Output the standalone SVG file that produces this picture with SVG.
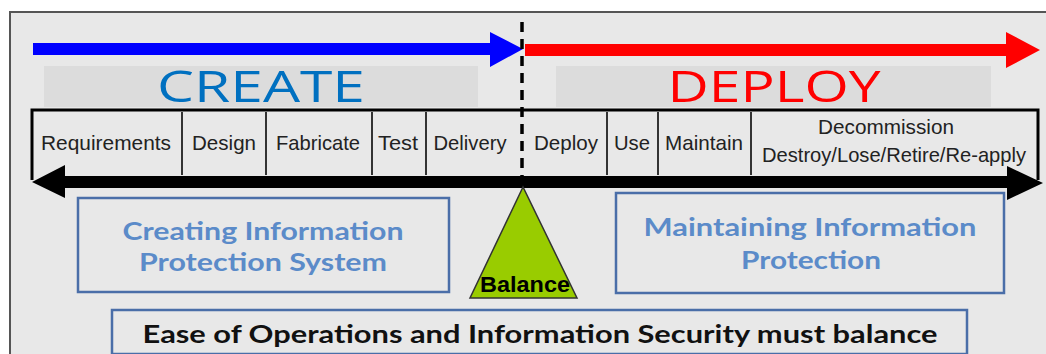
<svg xmlns="http://www.w3.org/2000/svg" width="1046" height="354" viewBox="0 0 1046 354">
  <style>
    .stage { font-family: "Liberation Sans", Arial, sans-serif; font-size: 21px; fill: #222; text-anchor: middle; }
    .div { stroke: #333; stroke-width: 2; }
    .box { fill: none; stroke: #4a6ea8; stroke-width: 2.5; }
    .blue { font-family: "Lato", "Open Sans", sans-serif; font-weight: bold; font-size: 24px; fill: #5b8bc9; text-anchor: middle; }
    .big { font-family: "Open Sans", "Liberation Sans", sans-serif; font-size: 44px; text-anchor: middle; }
  </style>
  <rect x="0" y="0" width="1046" height="354" fill="#ffffff"/>
  <rect x="10" y="12" width="1045" height="350" fill="#e8e8e8" stroke="#555" stroke-width="2"/>

  <g id="create-label">
    <rect x="44" y="66" width="434" height="41" fill="#dcdcdc"/>
    <text class="big" x="261" y="102" fill="#0070c0" textLength="208" lengthAdjust="spacingAndGlyphs">CREATE</text>
  </g>
  <g id="deploy-label">
    <rect x="556" y="66" width="435" height="41" fill="#dcdcdc"/>
    <text class="big" x="774" y="102" fill="#ff0000" textLength="213" lengthAdjust="spacingAndGlyphs">DEPLOY</text>
  </g>

  <g id="stages">
    <path d="M32,180 V110 H1038 V180" fill="none" stroke="#000" stroke-width="3"/>
    <line class="div" x1="182" y1="112" x2="182" y2="175"/>
    <line class="div" x1="266" y1="112" x2="266" y2="175"/>
    <line class="div" x1="372" y1="112" x2="372" y2="175"/>
    <line class="div" x1="426" y1="112" x2="426" y2="175"/>
    <line class="div" x1="607" y1="112" x2="607" y2="175"/>
    <line class="div" x1="658" y1="112" x2="658" y2="175"/>
    <line class="div" x1="751" y1="112" x2="751" y2="175"/>
    <text class="stage" x="106" y="150" textLength="130" lengthAdjust="spacingAndGlyphs">Requirements</text>
    <text class="stage" x="224" y="150" textLength="64" lengthAdjust="spacingAndGlyphs">Design</text>
    <text class="stage" x="318" y="150" textLength="84" lengthAdjust="spacingAndGlyphs">Fabricate</text>
    <text class="stage" x="398" y="150" textLength="40" lengthAdjust="spacingAndGlyphs">Test</text>
    <text class="stage" x="470" y="150" textLength="73" lengthAdjust="spacingAndGlyphs">Delivery</text>
    <text class="stage" x="566" y="150" textLength="64" lengthAdjust="spacingAndGlyphs">Deploy</text>
    <text class="stage" x="632" y="150" textLength="36" lengthAdjust="spacingAndGlyphs">Use</text>
    <text class="stage" x="704" y="150" textLength="78" lengthAdjust="spacingAndGlyphs">Maintain</text>
    <text class="stage" x="886" y="134" textLength="136" lengthAdjust="spacingAndGlyphs">Decommission</text>
    <text class="stage" x="894" y="162" textLength="264" lengthAdjust="spacingAndGlyphs">Destroy/Lose/Retire/Re-apply</text>
  </g>

  <g id="connectors">
    <polygon points="33,43 490,43 490,32 523,49 490,67 490,55 33,55" fill="#0000ff"/>
    <polygon points="525,44 1006,44 1006,32 1040,50 1006,68 1006,56 525,56" fill="#ff0000"/>
    <line x1="522" y1="22" x2="522" y2="190" stroke="#000" stroke-width="3.5" stroke-dasharray="10 7"/>
    <polygon points="32,182 65,165 65,176 1007,176 1007,166 1043,183 1007,200 1007,188 65,188 65,198" fill="#000"/>
  </g>

  <g id="balance">
    <polygon points="523,187 470,298 577,298" fill="#99cc00" stroke="#333" stroke-width="1.5"/>
    <text x="525" y="292" font-family="'Liberation Sans', Arial, sans-serif" font-weight="bold" font-size="22" fill="#000" text-anchor="middle" textLength="90" lengthAdjust="spacingAndGlyphs">Balance</text>
  </g>

  <g id="creating-box">
    <rect class="box" x="78" y="198" width="371" height="94"/>
    <text class="blue" x="263" y="240" textLength="281" lengthAdjust="spacingAndGlyphs">Creating Information</text>
    <text class="blue" x="263" y="271" textLength="248" lengthAdjust="spacingAndGlyphs">Protection System</text>
  </g>

  <g id="maintaining-box">
    <rect class="box" x="616" y="193" width="388" height="100"/>
    <text class="blue" x="810" y="236" textLength="333" lengthAdjust="spacingAndGlyphs">Maintaining Information</text>
    <text class="blue" x="811" y="269" textLength="140" lengthAdjust="spacingAndGlyphs">Protection</text>
  </g>

  <g id="ease-box">
    <rect class="box" x="112" y="310" width="855" height="44"/>
    <text x="540" y="343" font-family="Lato, 'Open Sans', sans-serif" font-weight="bold" font-size="24" fill="#111" text-anchor="middle" textLength="795" lengthAdjust="spacingAndGlyphs">Ease of Operations and Information Security must balance</text>
  </g>
</svg>
